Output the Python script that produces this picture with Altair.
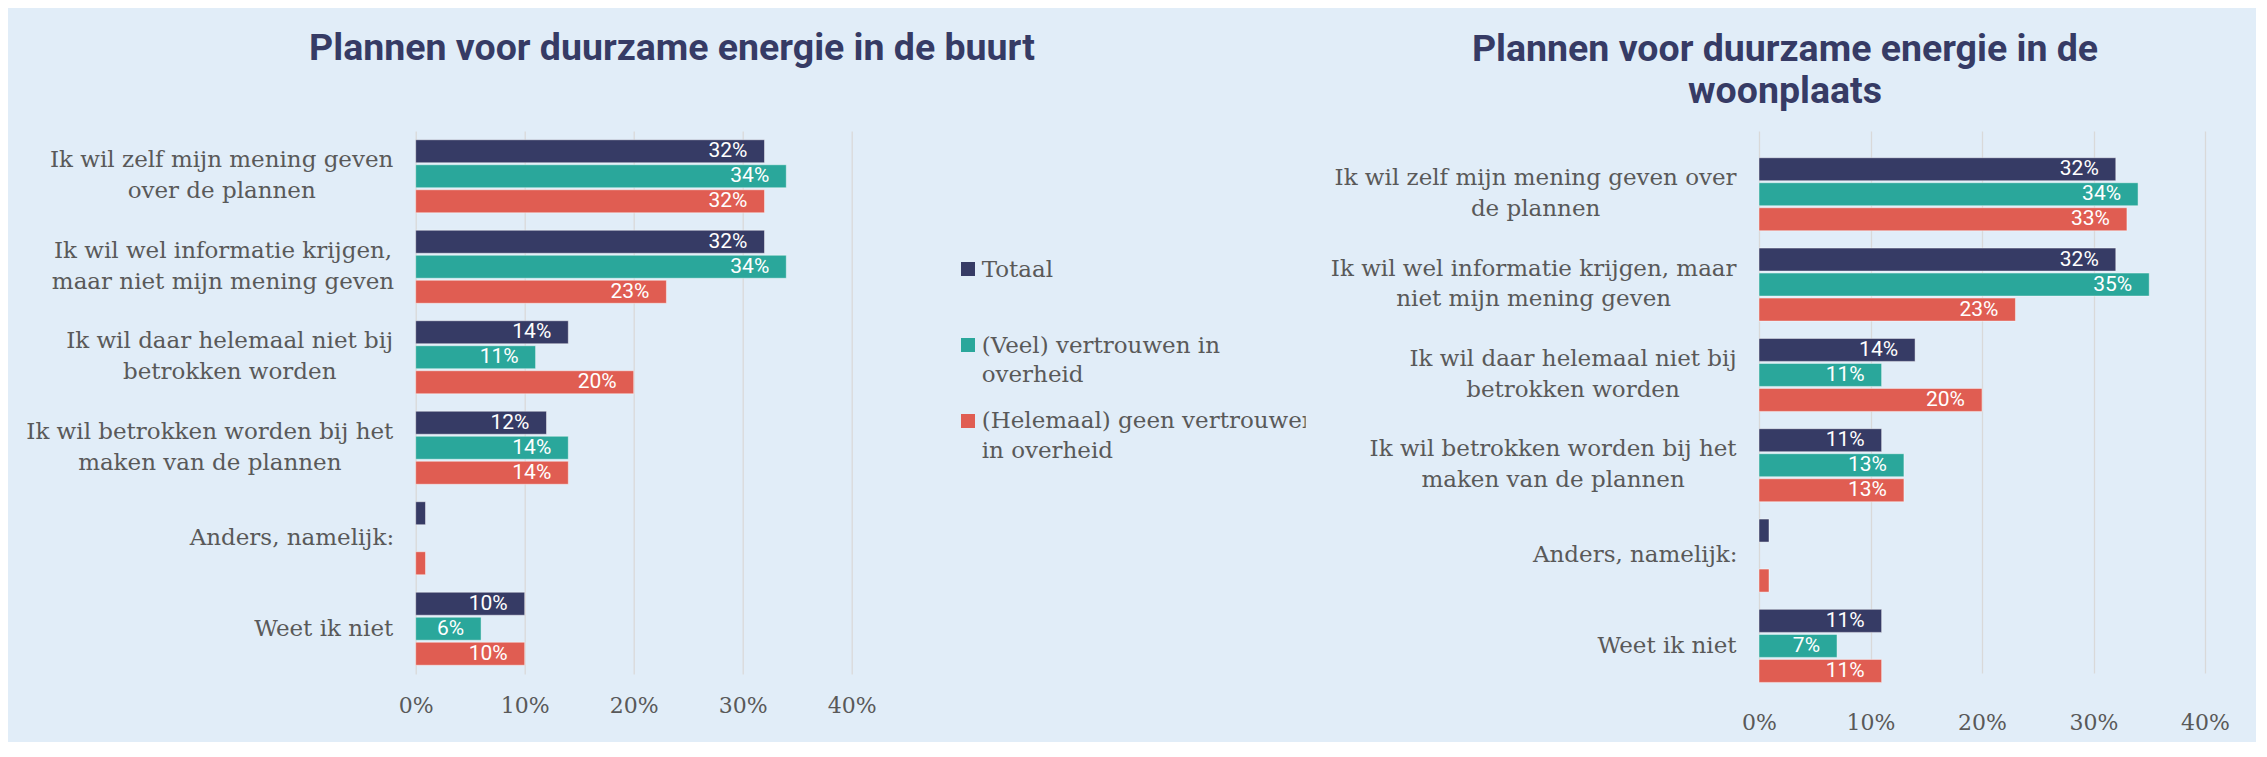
import json
import altair as alt
import pandas as pd

# ---------------- data ----------------
series = ["Totaal", "(Veel) vertrouwen in overheid", "(Helemaal) geen vertrouwen in overheid"]
colors = ["#363B65", "#2AA79B", "#E05D52"]

labels_buurt = [
    ["Ik wil zelf mijn mening geven", "over de plannen"],
    ["Ik wil wel informatie krijgen,", "maar niet mijn mening geven"],
    ["Ik wil daar helemaal niet bij", "betrokken worden"],
    ["Ik wil betrokken worden bij het", "maken van de plannen"],
    ["Anders, namelijk:"],
    ["Weet ik niet"],
]
labels_woonplaats = [
    ["Ik wil zelf mijn mening geven over", "de plannen"],
    ["Ik wil wel informatie krijgen, maar", "niet mijn mening geven"],
    ["Ik wil daar helemaal niet bij", "betrokken worden"],
    ["Ik wil betrokken worden bij het", "maken van de plannen"],
    ["Anders, namelijk:"],
    ["Weet ik niet"],
]

buurt_totaal = [32, 32, 14, 12, 0.9, 10]
buurt_veel = [34, 34, 11, 14, 0, 6]
buurt_geen = [32, 23, 20, 14, 0.9, 10]

woon_totaal = [32, 32, 14, 11, 0.9, 11]
woon_veel = [34, 35, 11, 13, 0, 7]
woon_geen = [33, 23, 20, 13, 0.9, 11]

legend_lines = [["Totaal"], ["(Veel) vertrouwen in", "overheid"], ["(Helemaal) geen vertrouwen", "in overheid"]]
x_ticks = [0, 10, 20, 30, 40]

title_buurt = "Plannen voor duurzame energie in de buurt"
title_woon = ["Plannen voor duurzame energie in de", "woonplaats"]

# ------- helpers: right-aligned label blocks whose lines are centred -------
LABEL_FS = 23
GAP = 22
W = {' ': .318, ',': .318, ':': .337, 'A': .722, 'I': .463, 'W': 1.027, 'a': .596, 'b': .640,
     'c': .560, 'd': .640, 'e': .592, 'f': .370, 'g': .640, 'h': .644, 'i': .320, 'j': .310,
     'k': .606, 'l': .320, 'm': .948, 'n': .644, 'o': .602, 'p': .640, 'r': .478, 's': .513,
     't': .402, 'u': .644, 'v': .565, 'w': .856, 'z': .523}


def tw(s):
    return sum(W.get(c, 0.6) for c in s) * LABEL_FS


def prepare(labels):
    labs = ["\n".join(block) for block in labels]
    widths = [max(tw(l) for l in block) for block in labels]
    expr = "%.1f" % GAP
    for lab, wb in reversed(list(zip(labs, widths))):
        expr = "datum.value === %s ? %.1f : (%s)" % (json.dumps(lab), GAP + wb / 2, expr)
    return labs, expr


def build(labels, vals):
    labs, expr = prepare(labels)
    rows = []
    for i, lab in enumerate(labs):
        for s, v in zip(series, vals):
            rows.append({"label": lab, "series": s, "v": v[i]})
    return pd.DataFrame(rows), labs, expr


df_b, order_b, pad_b = build(labels_buurt, [buurt_totaal, buurt_veel, buurt_geen])
df_w, order_w, pad_w = build(labels_woonplaats, [woon_totaal, woon_veel, woon_geen])

color = alt.Color("series:N", scale=alt.Scale(domain=series, range=colors), legend=None)
GRAY = "#595959"


def bars_layer(df, order, pad_expr, yrange, xrange):
    y = alt.Y("label:N", sort=order, title=None,
              scale=alt.Scale(range=yrange, paddingInner=0.193, paddingOuter=0.0967),
              axis=alt.Axis(labelExpr="split(datum.label, '\\n')", labelAlign="center",
                            labelBaseline={"condition": {"test": "indexof(datum.value, '\\n') >= 0",
                                                         "value": "line-bottom"},
                                           "value": "middle"},
                            labelLimit=800, labelPadding={"expr": pad_expr},
                            labelFontSize=LABEL_FS, labelLineHeight=31, grid=False))
    yoff = alt.YOffset("series:N", sort=series, scale=alt.Scale(paddingInner=0.08, paddingOuter=0))
    x = alt.X("v:Q", title=None, scale=alt.Scale(domain=[0, 40], range=xrange),
              axis=alt.Axis(values=x_ticks, labelExpr="datum.value + '%'", grid=True,
                            labelFlush=False))
    base = alt.Chart(df)
    bars = base.mark_bar(stroke="#FFFFFF", strokeWidth=1, strokeOpacity=0.45).encode(
        x=x, y=y, yOffset=yoff, color=color).transform_filter("datum.v > 0")
    texts = base.mark_text(align="right", baseline="middle", dx=-17, color="white",
                           font="Roboto", fontSize=21).encode(
        x=alt.X("v:Q"), y=alt.Y("label:N", sort=order), yOffset=alt.YOffset("series:N", sort=series),
        text=alt.Text("txt:N")).transform_filter("datum.v >= 1").transform_calculate(
        txt="format(datum.v, '.0f') + '%'")
    return alt.layer(bars, texts)


title_style = dict(anchor="middle", frame="group", font="Roboto", fontWeight="bold",
                   fontSize=37.5, color="#363B65", lineHeight=42)

# ---------------- left panel (with legend) ----------------
leg_df = pd.DataFrame({"series": series, "txt": ["\n".join(l) for l in legend_lines]})
ly = alt.Y("series:N", sort=series, scale=alt.Scale(type="point", range=[138, 290], padding=0), axis=None)
squares = alt.Chart(leg_df).mark_square(size=196, opacity=1).encode(x=alt.value(552.3), y=ly, color=color)
ltext = alt.Chart(leg_df).mark_text(align="left", baseline="alphabetic", dy=7.5, lineBreak="\n",
                                    clip=True, font="DejaVu Serif", fontSize=23, color=GRAY,
                                    lineHeight=29.5).encode(x=alt.value(566), y=ly, text="txt:N")

left = alt.layer(bars_layer(df_b, order_b, pad_b, [0, 543], [0, 436]),
                 alt.layer(squares, ltext)).resolve_scale(y="independent").properties(
    width=890, height=543,
    title=alt.TitleParams(title_buurt, dx=-188.7, offset=63.5, **title_style))

# ---------------- right panel ----------------
right = bars_layer(df_w, order_w, pad_w, [18, 560], [0, 446]).properties(
    width=446, height=560,
    title=alt.TitleParams(title_woon, dx=-197, offset=20.7, **title_style))

chart = alt.hconcat(left, right, spacing=453.3, bounds="flush").properties(
    background="#E1EDF8",
    padding={"left": 16.7, "top": 22, "right": 26, "bottom": 8},
).configure_view(stroke=None).configure_axis(
    labelFont="DejaVu Serif", labelColor=GRAY, labelFontSize=22, labelPadding=22,
    domain=False, ticks=False, tickSize=0, gridColor="#D9D9D9", gridWidth=1.3,
)

chart.save("out.html", embed_options={"renderer": "svg", "actions": False})
